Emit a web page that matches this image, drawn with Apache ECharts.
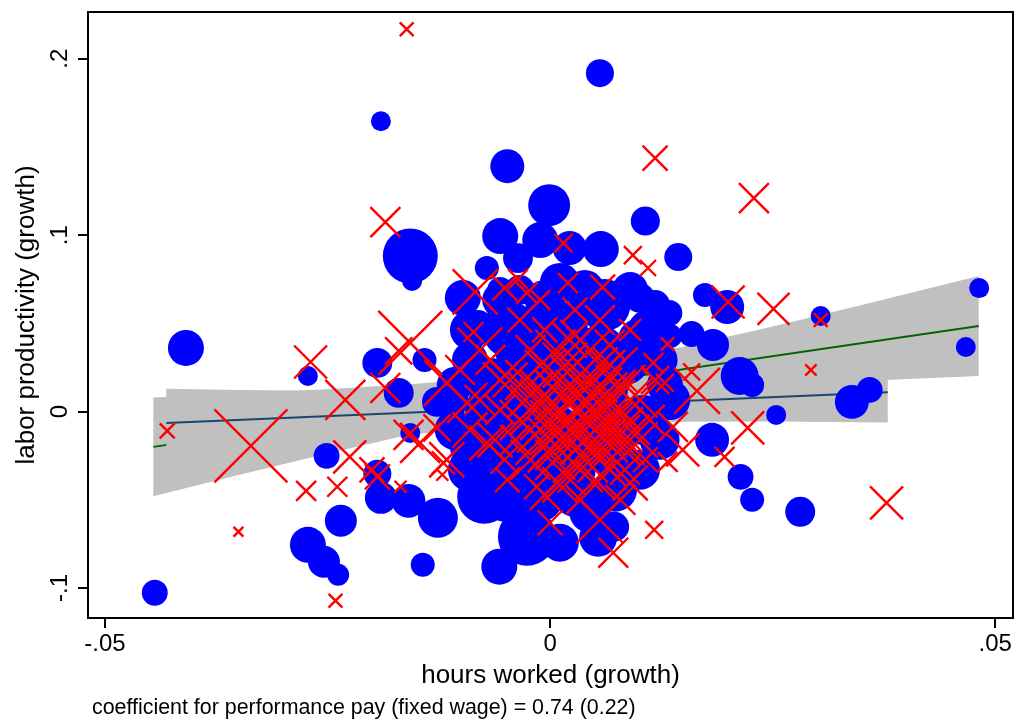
<!DOCTYPE html>
<html>
<head>
<meta charset="utf-8">
<script src="https://cdn.jsdelivr.net/npm/echarts@6/dist/echarts.min.js"></script>
<style>
  html, body { margin: 0; padding: 0; background: #fff; }
  #chart { width: 1015px; height: 721px; }
</style>
</head>
<body>
<div id="chart"></div>
<script>
// Axis ticks and their labels
const xTicks = [-0.05, 0, 0.05];
const xTickLabels = ['-.05', '0', '.05'];
const yTicks = [-0.1, 0, 0.1, 0.2];
const yTickLabels = ['-.1', '0', '.1', '.2'];

const xTitle = 'hours worked (growth)';
const yTitle = 'labor productivity (growth)';
const noteText = 'coefficient for performance pay (fixed wage) = 0.74 (0.22)';

// Blue group: [hours growth, productivity growth, weight]
const groupBlue = [
  [0.0056, 0.1918, 49], [-0.0190, 0.1646, 25], [-0.0048, 0.1391, 72], [-0.0001, 0.1170, 110],
  [0.0107, 0.1080, 53], [-0.0157, 0.0882, 189], [-0.0155, 0.0740, 25], [-0.0056, 0.0995, 81],
  [-0.0011, 0.0972, 81], [0.0022, 0.0927, 72], [0.0057, 0.0921, 81], [0.0144, 0.0876, 49],
  [-0.0098, 0.0644, 81], [-0.0071, 0.0814, 36], [-0.0036, 0.0870, 56], [0.0134, 0.0559, 42],
  [0.0174, 0.0661, 36], [0.0199, 0.0593, 72], [0.0159, 0.0440, 42], [0.0183, 0.0378, 64],
  [0.0213, 0.0202, 90], [0.0227, 0.0151, 36], [0.0254, -0.0019, 25], [0.0304, 0.0542, 25],
  [0.0339, 0.0055, 72], [0.0359, 0.0123, 42], [0.0482, 0.0700, 25], [0.0467, 0.0366, 25],
  [0.0182, -0.0160, 72], [0.0214, -0.0370, 42], [0.0227, -0.0500, 36], [0.0281, -0.0568, 56],
  [-0.0409, 0.0361, 81], [-0.0272, 0.0202, 25], [-0.0251, -0.0251, 42], [-0.0444, -0.1027, 42],
  [-0.0272, -0.0755, 81], [-0.0235, -0.0619, 64], [-0.0254, -0.0851, 64], [-0.0238, -0.0925, 30],
  [-0.0194, 0.0276, 56], [-0.0141, 0.0293, 36], [-0.0170, 0.0106, 56], [-0.0157, -0.0121, 25],
  [-0.0194, -0.0353, 49], [-0.0190, -0.0489, 64], [-0.0159, -0.0506, 72], [-0.0126, -0.0602, 100],
  [-0.0074, -0.0483, 182], [-0.0143, -0.0868, 36], [-0.0057, -0.0879, 81], [-0.0026, -0.0710, 210],
  [0.0011, -0.0743, 90], [0.0045, -0.0568, 110], [0.0054, -0.0715, 90], [0.0072, -0.0653, 56],
  [0.0011, 0.0729, 100], [-0.0056, 0.0689, 42], [-0.0081, 0.0491, 56], [-0.0107, 0.0151, 81],
  [-0.0127, 0.0055, 56], [-0.0090, -0.0200, 100], [0.0104, -0.0047, 156], [-0.0045, 0.0463, 196],
  [0.0011, 0.0463, 196], [0.0061, 0.0604, 169], [-0.0022, 0.0180, 225], [0.0036, 0.0180, 225],
  [0.0084, 0.0293, 156], [-0.0067, 0.0168, 144], [-0.0056, -0.0115, 196], [0.0000, -0.0115, 225],
  [0.0056, -0.0104, 196], [-0.0034, -0.0330, 196], [0.0022, -0.0330, 169], [0.0075, -0.0302, 100],
  [-0.0034, 0.0689, 56], [0.0110, 0.0463, 100], [0.0101, 0.0644, 56], [0.0135, 0.0429, 36],
  [0.0129, 0.0151, 81],
  [-0.0090, 0.0463, 100], [-0.0056, 0.0633, 81], [-0.0006, 0.0633, 100], [0.0039, 0.0689, 100],
  [0.0090, 0.0689, 81], [0.0118, 0.0604, 56], [0.0101, 0.0406, 121], [0.0123, 0.0293, 81],
  [0.0135, 0.0066, 100], [0.0123, -0.0160, 100], [0.0101, -0.0330, 100], [0.0073, -0.0443, 121],
  [0.0028, -0.0472, 121], [-0.0011, -0.0500, 121], [-0.0051, -0.0500, 121], [-0.0090, -0.0330, 121],
  [-0.0107, -0.0104, 100], [-0.0112, 0.0066, 81], [-0.0090, 0.0293, 81], [-0.0034, 0.0349, 156],
  [0.0056, 0.0349, 156], [0.0011, 0.0293, 196], [0.0056, 0.0123, 196], [-0.0011, 0.0066, 196],
  [0.0067, -0.0217, 156], [-0.0011, -0.0273, 196], [-0.0056, -0.0330, 100], [-0.0067, 0.0010, 156]
];

// Red group: [hours growth, productivity growth, weight]
const groupRed = [
  [-0.0161, 0.2167, 12], [0.0118, 0.1437, 39], [-0.0185, 0.1074, 56], [0.0229, 0.1210, 56],
  [0.0015, 0.0955, 20], [0.0093, 0.0887, 20], [0.0110, 0.0814, 16], [0.0200, 0.0621, 68],
  [0.0251, 0.0582, 64], [0.0304, 0.0519, 12], [0.0293, 0.0236, 8], [0.0378, -0.0517, 68],
  [0.0117, -0.0670, 20], [-0.0269, 0.0281, 68], [-0.0430, -0.0109, 14], [-0.0336, -0.0194, 333],
  [-0.0274, -0.0449, 25], [-0.0350, -0.0681, 6], [-0.0241, -0.1072, 12], [0.0222, -0.0092, 68],
  [0.0165, 0.0117, 132], [0.0132, 0.0383, 11], [0.0159, 0.0225, 18], [0.0196, -0.0257, 25],
  [0.0149, -0.0217, 68], [-0.0084, 0.0678, 127], [-0.0036, 0.0751, 25], [-0.0157, 0.0389, 256],
  [-0.0170, 0.0344, 46], [0.0020, 0.0729, 25], [0.0059, 0.0706, 39], [-0.0026, 0.0672, 30],
  [-0.0051, 0.0700, 39],
  [-0.0230, 0.0066, 100], [-0.0225, -0.0257, 68], [-0.0200, -0.0330, 39], [-0.0159, -0.0132, 56],
  [-0.0127, -0.0092, 46], [-0.0120, -0.0290, 33], [-0.0194, -0.0370, 39], [-0.0239, -0.0426, 25],
  [-0.0168, -0.0426, 9], [-0.0121, -0.0358, 9], [-0.0116, 0.0163, 127], [-0.0093, 0.0049, 100],
  [-0.0146, -0.0177, 100], [-0.0116, -0.0273, 77], [-0.0071, -0.0177, 77], [-0.0079, 0.0349, 127],
  [-0.0086, 0.0451, 25], [-0.0185, 0.0134, 56], [-0.0101, 0.0236, 56], [-0.0090, -0.0104, 77],
  [-0.0079, 0.0066, 56],
  [0.0000, -0.0630, 39], [0.0056, -0.0613, 138], [0.0071, -0.0800, 56], [-0.0048, -0.0387, 39],
  [-0.0015, -0.0426, 39], [0.0090, -0.0404, 77], [0.0079, -0.0500, 56], [-0.0006, -0.0472, 56],
  [0.0034, -0.0500, 49], [0.0132, -0.0285, 25], [0.0107, -0.0273, 39],
  [0.0116, 0.0276, 25], [0.0129, 0.0163, 20], [0.0138, -0.0087, 56], [0.0118, 0.0180, 49],
  [0.0112, -0.0047, 56],
  [0.0031, -0.0007, 400], [0.0045, -0.0047, 306], [0.0022, 0.0038, 225], [0.0056, 0.0066, 189],
  [0.0011, -0.0104, 225], [0.0039, -0.0160, 156], [0.0051, 0.0123, 225], [0.0011, 0.0095, 156],
  [0.0067, -0.0075, 127], [0.0028, 0.0180, 156], [0.0000, 0.0010, 225], [0.0079, 0.0010, 100],
  [0.0034, -0.0245, 189], [-0.0011, -0.0160, 156], [0.0056, -0.0273, 127], [0.0017, 0.0264, 127],
  [0.0062, 0.0236, 100], [-0.0022, 0.0095, 127], [-0.0006, 0.0236, 100], [0.0079, 0.0123, 156],
  [0.0084, -0.0189, 100], [0.0006, -0.0273, 100], [0.0045, 0.0349, 100], [-0.0034, -0.0047, 100],
  [0.0101, 0.0066, 77], [0.0022, 0.0406, 77], [-0.0022, 0.0349, 56], [-0.0045, 0.0180, 77],
  [-0.0039, -0.0160, 56], [0.0095, -0.0104, 56], [0.0067, 0.0378, 56], [-0.0006, 0.0463, 39],
  [-0.0056, 0.0010, 56], [0.0051, -0.0387, 100], [0.0011, -0.0415, 77], [0.0084, -0.0330, 56],
  [-0.0067, 0.0293, 56], [-0.0034, 0.0519, 39], [0.0056, 0.0519, 56], [0.0028, 0.0576, 39],
  [-0.0011, 0.0633, 25], [0.0090, 0.0463, 30], [-0.0051, -0.0273, 49],
  [0.0039, 0.0038, 352], [0.0017, -0.0047, 306], [0.0051, -0.0104, 264], [0.0028, 0.0095, 264],
  [0.0006, -0.0189, 189], [0.0067, 0.0066, 189], [0.0045, 0.0208, 189], [0.0011, 0.0180, 156],
  [0.0056, -0.0189, 189], [-0.0006, -0.0075, 189], [0.0079, -0.0104, 127], [0.0034, -0.0330, 127],
  [0.0022, -0.0104, 400], [0.0051, 0.0010, 400], [-0.0017, 0.0010, 156], [0.0090, 0.0066, 127],
  [0.0034, 0.0406, 100], [0.0006, 0.0349, 100], [0.0073, 0.0236, 127], [-0.0028, 0.0180, 100],
  [-0.0022, -0.0273, 100], [0.0017, -0.0358, 100], [0.0067, -0.0330, 77], [0.0101, -0.0160, 77],
  [-0.0056, 0.0180, 77], [-0.0062, -0.0160, 77],
  [0.0028, -0.0075, 352], [0.0011, 0.0010, 306], [0.0056, -0.0019, 306], [0.0039, 0.0123, 306],
  [0.0045, -0.0217, 225], [0.0017, -0.0160, 225], [-0.0006, 0.0095, 156], [0.0073, -0.0160, 156]
];

// Linear fit for the whole sample (green) and its 95% band
const fitAllX = [-0.04456, 0.04815];
const fitAllY = [-0.0200, 0.04853];
const bandAllX = [-0.04456, -0.035, -0.025, -0.015, -0.005, 0.005, 0.015, 0.025, 0.035, 0.04815];
const bandAllLo = [-0.0480, -0.0360, -0.0237, -0.0121, -0.0017, 0.0061, 0.0112, 0.0146, 0.0173, 0.0202];
const bandAllHi = [0.0080, 0.0102, 0.0127, 0.0158, 0.0202, 0.0271, 0.0368, 0.0482, 0.0604, 0.0768];

// Linear fit for the blue group (navy) and its 95% band
const fitBlueX = [-0.0431, 0.03793];
const fitBlueY = [-0.0064, 0.01099];
const bandBlueX = [-0.0431, -0.035, -0.025, -0.015, -0.005, 0.005, 0.015, 0.025, 0.03793];
const bandBlueLo = [-0.0257, -0.0215, -0.0168, -0.0126, -0.0092, -0.0069, -0.0058, -0.0056, -0.0062];
const bandBlueHi = [0.0129, 0.0122, 0.0118, 0.0118, 0.0127, 0.0148, 0.0180, 0.0221, 0.0282];

const FONT = '"Liberation Sans", Arial, Helvetica, sans-serif';
const CROSS = 'path://M0,0L20,20M20,0L0,20';

function pairs(xs, ys) { return xs.map((x, i) => [x, ys[i]]); }

function bandRenderer(bx, lo, hi) {
  return function (params, api) {
    const pts = [];
    for (let i = 0; i < bx.length; i++) pts.push(api.coord([bx[i], hi[i]]));
    for (let i = bx.length - 1; i >= 0; i--) pts.push(api.coord([bx[i], lo[i]]));
    return { type: 'polygon', shape: { points: pts }, style: { fill: '#c0c0c0', stroke: null } };
  };
}

function tickLabel(ticks, labels) {
  return function (v) {
    for (let i = 0; i < ticks.length; i++) if (Math.abs(ticks[i] - v) < 1e-9) return labels[i];
    return '';
  };
}

const weightSize = v => 4 * Math.sqrt(v[2]);

const chart = echarts.init(document.getElementById('chart'), null, { renderer: 'canvas' });
chart.setOption({
  animation: false,
  backgroundColor: '#ffffff',
  title: {
    text: noteText, left: 92, top: 698, padding: 0,
    textStyle: { fontSize: 21.4, fontWeight: 'normal', color: '#000', fontFamily: FONT }
  },
  grid: { left: 88, right: 2, top: 12, bottom: 103, show: true, borderColor: '#000', borderWidth: 2, backgroundColor: 'transparent' },
  xAxis: {
    type: 'value', min: -0.0519, max: 0.0520,
    name: xTitle, nameLocation: 'middle', nameGap: 45,
    nameTextStyle: { fontSize: 26, color: '#000', fontFamily: FONT },
    axisLine: { show: false, onZero: false },
    axisTick: { show: true, length: 10, inside: false, customValues: xTicks, lineStyle: { color: '#000', width: 2 } },
    axisLabel: { customValues: xTicks, formatter: tickLabel(xTicks, xTickLabels), fontSize: 24, color: '#000', fontFamily: FONT, margin: 14 },
    splitLine: { show: false }
  },
  yAxis: {
    type: 'value', min: -0.1170, max: 0.2265,
    name: yTitle, nameLocation: 'middle', nameGap: 46, nameRotate: 90,
    nameTextStyle: { fontSize: 26, color: '#000', fontFamily: FONT },
    axisLine: { show: false, onZero: false },
    axisTick: { show: true, length: 10, inside: false, customValues: yTicks, lineStyle: { color: '#000', width: 2 } },
    axisLabel: { customValues: yTicks, formatter: tickLabel(yTicks, yTickLabels), rotate: 90, fontSize: 24, color: '#000', fontFamily: FONT, margin: 16 },
    splitLine: { show: false }
  },
  series: [
    // drawing order: full-sample band, its fit line, blue-group band, its fit line, markers
    { type: 'custom', name: 'band all', silent: true, clip: true, z: 1,
      renderItem: bandRenderer(bandAllX, bandAllLo, bandAllHi), data: [[bandAllX[0], bandAllLo[0]]] },
    { type: 'line', name: 'fit all', silent: true, z: 2, data: pairs(fitAllX, fitAllY), showSymbol: false, symbol: 'none',
      lineStyle: { color: '#006400', width: 2 } },
    { type: 'custom', name: 'band blue', silent: true, clip: true, z: 3,
      renderItem: bandRenderer(bandBlueX, bandBlueLo, bandBlueHi), data: [[bandBlueX[0], bandBlueLo[0]]] },
    { type: 'line', name: 'fit blue', silent: true, z: 4, data: pairs(fitBlueX, fitBlueY), showSymbol: false, symbol: 'none',
      lineStyle: { color: '#1a476f', width: 2 } },
    { type: 'scatter', name: 'blue', silent: true, z: 5, data: groupBlue, symbol: 'circle', symbolSize: weightSize,
      itemStyle: { color: '#0000ff', opacity: 1 } },
    { type: 'scatter', name: 'red', silent: true, z: 6, data: groupRed, symbol: CROSS, symbolSize: weightSize,
      itemStyle: { color: 'rgba(0,0,0,0)', borderColor: '#ff0000', borderWidth: 2.4, opacity: 1 } }
  ]
});
</script>
</body>
</html>
